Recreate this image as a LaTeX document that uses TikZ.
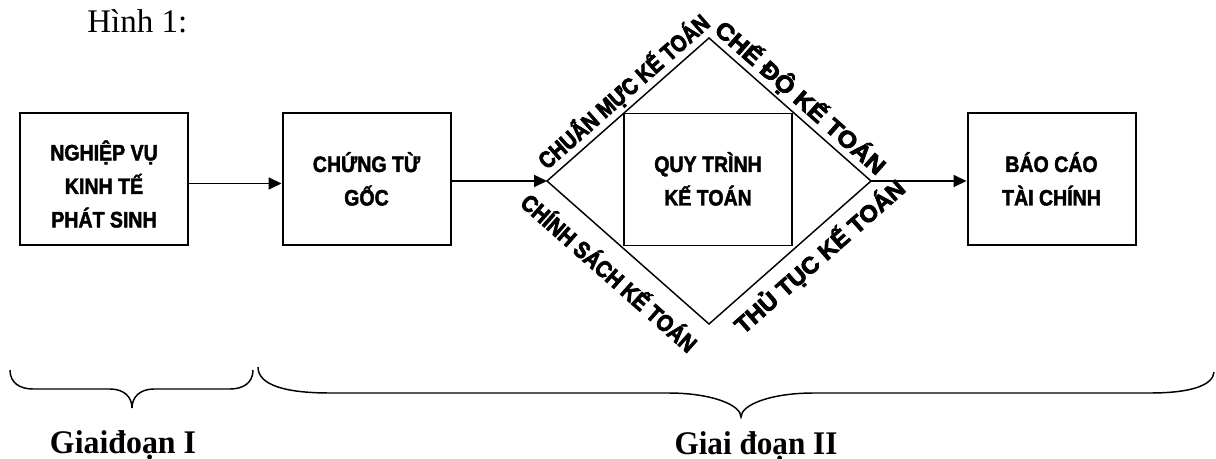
\documentclass[tikz,border=0pt]{standalone}
\usepackage{graphicx}
\usepackage{fontspec}
\setmainfont{Liberation Serif}
\newfontfamily\boxfont{Liberation Sans}[FakeStretch=0.875, BoldFeatures={FakeBold=2}]
\newfontfamily\artfont{Liberation Sans}[BoldFeatures={FakeBold=3.5}]
\usetikzlibrary{arrows.meta,calc}
\newdimen\px \px=0.75pt
% struts that fix where the lines sit inside a box
\newcommand\tophold[1]{\rule{0pt}{#1\px}}
\newcommand\bothold[1]{\rule[-#1\px]{0pt}{#1\px}}

\tikzset{
  stagebox/.style={draw, line width=1.5pt, minimum width=168\px, minimum height=132\px,
    inner sep=0pt, align=center,
    font=\boxfont\bfseries\fontsize{16.75pt}{33.5\px}\selectfont},
  corebox/.style={stagebox, line width=1.2pt},
  rim/.style={line width=1.1pt, line join=miter},
  flow/.style={line width=1.3pt, -{Triangle[length=9.75pt,width=9pt]}},
  brace/.style={line width=1.1pt},
  artlabel/.style={anchor=base, inner sep=0pt,
    font=\artfont\bfseries\fontsize{17.5pt}{20pt}\selectfont},
  stagelabel/.style={anchor=base, inner sep=0pt,
    font=\bfseries\fontsize{24.75pt}{28pt}\selectfont}
}

\begin{document}
\begin{tikzpicture}[x=0.75pt, y=-0.75pt]
\useasboundingbox (0,0) rectangle (1216,459);

% title
\node[anchor=base west, inner sep=0pt, font=\fontsize{24.75pt}{28pt}\selectfont] (title) at (87,33) {Hình 1:};

% boxes
\node[stagebox] (b1) at (104,179.5) {\tophold{29}NGHIỆP VỤ\\KINH TẾ\\PHÁT SINH};
\node[stagebox] (b2) at (366.5,179.5) {\tophold{25}CHỨNG TỪ\\GỐC\bothold{6.5}};
\node[corebox] (b3) at (708,179.5) {\tophold{25}QUY TRÌNH\\KẾ TOÁN\bothold{6.5}};
\node[stagebox] (b4) at (1051.5,179.5) {\tophold{25}BÁO CÁO\\TÀI CHÍNH\bothold{6.5}};

% diamond around the accounting process
\coordinate (L) at (547,181);
\coordinate (T) at (709,38);
\coordinate (R) at (871,181);
\coordinate (B) at (709,324);
\draw[rim] (L) -- (T) -- (R) -- (B) -- cycle;

% labels along the diamond edges
\node[artlabel, rotate=41.43] (chuan) at ($(L)!0.54!(T)!8\px!90:(T)$)
  {\resizebox{219\px}{\height}{CHUẨN MỰC KẾ TOÁN}};
\node[artlabel, rotate=-41.43] (chedo) at ($(T)!0.5!(R)!7.5\px!90:(R)$)
  {\resizebox{218\px}{\height}{CHẾ ĐỘ KẾ TOÁN}};
\node[artlabel, rotate=-41.43] (chinh) at ($(L)!0.497!(B)!36.5\px!-90:(B)$)
  {\resizebox{225\px}{\height}{CHÍNH SÁCH KẾ TOÁN}};
\node[artlabel, rotate=41.43] (thutuc) at ($(B)!0.59!(R)!31\px!-90:(R)$)
  {\resizebox{218\px}{\height}{THỦ TỤC KẾ TOÁN}};

% flow arrows
\draw[flow] ([yshift=-4\px]b1.east) -- ([yshift=-4\px]b2.west);
\draw[flow] (b2.east |- L) -- (L);
\draw[flow] (R) -- (b4.west |- R);

% braces for the two stages
\draw[brace] (10,370) .. controls (10,383) and (20,389) .. (33,389) -- (110,389)
  .. controls (124,389) and (132,397) .. (132,408)
  .. controls (132,397) and (140,389) .. (154,389) -- (230,389)
  .. controls (243,389) and (253,383) .. (253,370);
\draw[brace] (258,367) .. controls (258,385) and (285,393) .. (330,393) -- (668,393)
  .. controls (712,393) and (741,405) .. (741,417)
  .. controls (741,405) and (770,393) .. (814,393) -- (1150,393)
  .. controls (1192,393) and (1213,385) .. (1214,372);

\node[stagelabel] (g1) at (123,453) {\resizebox{146\px}{\height}{Giaiđoạn I}};
\node[stagelabel] (g2) at (756,454) {\resizebox{163\px}{\height}{Giai đoạn II}};
\end{tikzpicture}
\end{document}
